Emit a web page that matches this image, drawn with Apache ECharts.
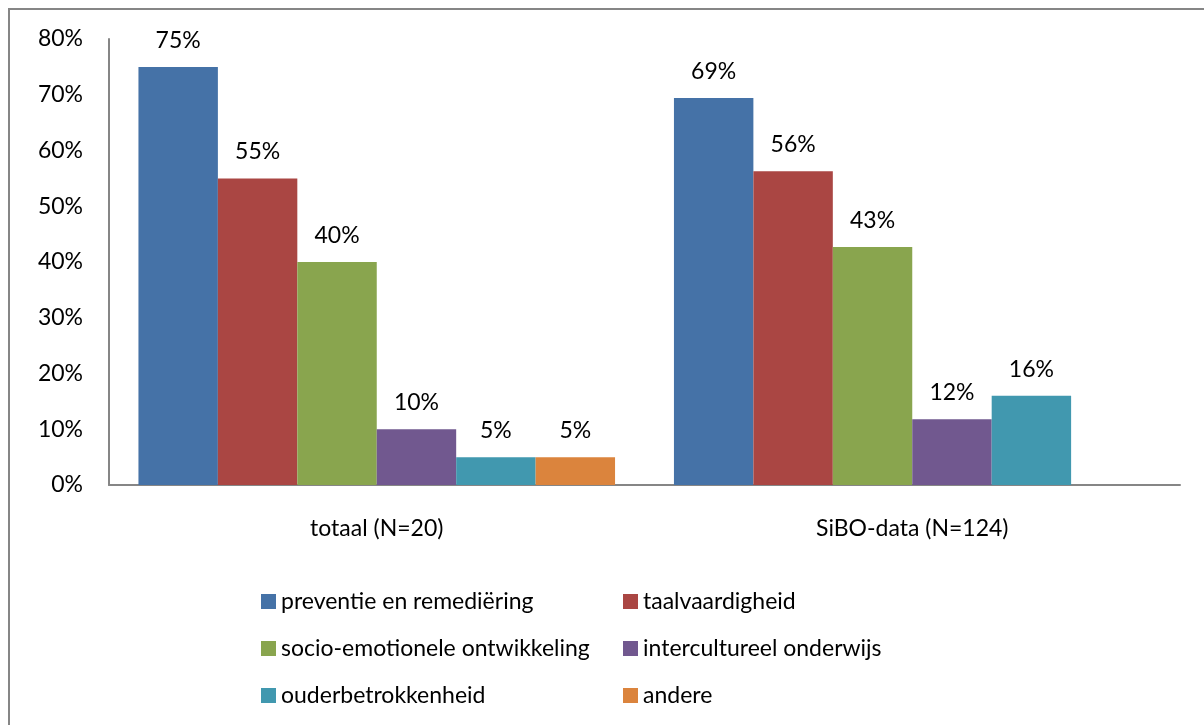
<!DOCTYPE html>
<html>
<head>
<meta charset="utf-8">
<script src="https://cdn.jsdelivr.net/npm/echarts@6/dist/echarts.min.js"></script>
<style>
  html, body { margin: 0; padding: 0; background: #fff; }
  #chart { width: 1204px; height: 725px; }
</style>
</head>
<body>
<div id="chart"></div>
<script>
// categorieen op de x-as
var categories = ['totaal (N=20)', 'SiBO-data (N=124)'];
// reeksen (percentages)
var seriesNames = ['preventie en remediëring', 'taalvaardigheid', 'socio-emotionele ontwikkeling',
  'intercultureel onderwijs', 'ouderbetrokkenheid', 'andere'];
var preventie = [75, 69.4];
var taal = [55, 56.3];
var socio = [40, 42.7];
var intercultureel = [10, 11.8];
var ouder = [5, 16.0];
var andere = [5, null];
var colors = ['#4572A7', '#AA4643', '#89A54E', '#71588F', '#4198AF', '#DB843D'];
// y-as: 0% .. 80%
var yMin = 0, yMax = 80, yStep = 10;

var font = 'Lato, "Liberation Sans", sans-serif';
var fs = 23;
var seriesData = [preventie, taal, socio, intercultureel, ouder, andere];

var chart = echarts.init(document.getElementById('chart'));
var ser = [];
seriesData.forEach(function (d, i) {
  ser.push({
    name: seriesNames[i],
    type: 'bar',
    data: d,
    barGap: '0%',
    barCategoryGap: '11%',
    itemStyle: { color: colors[i] },
    label: {
      show: true,
      position: 'top',
      distance: 15,
      color: '#000',
      fontFamily: font,
      fontSize: fs,
      formatter: function (p) { return Math.round(p.value) + '%'; }
    }
  });
});

var option = {
  animation: false,
  textStyle: { fontFamily: font },
  graphic: [{
    type: 'rect',
    shape: { x: 9, y: 9, width: 1400, height: 900 },
    style: { fill: 'none', stroke: '#868686', lineWidth: 2 },
    silent: true
  }],
  grid: { left: 109, right: 24, top: 39, bottom: 240, containLabel: false },
  legend: [{
    orient: 'vertical',
    left: 256, top: 585,
    itemWidth: 15, itemHeight: 15, itemGap: 24,
    icon: 'rect',
    data: [seriesNames[0], seriesNames[2], seriesNames[4]],
    textStyle: { color: '#000', fontSize: fs, fontFamily: font, lineHeight: 23 }
  }, {
    orient: 'vertical',
    left: 618, top: 585,
    itemWidth: 15, itemHeight: 15, itemGap: 24,
    icon: 'rect',
    data: [seriesNames[1], seriesNames[3], seriesNames[5]],
    textStyle: { color: '#000', fontSize: fs, fontFamily: font, lineHeight: 23 }
  }],
  xAxis: {
    type: 'category',
    data: categories,
    axisLine: { lineStyle: { color: '#868686', width: 2 } },
    axisTick: { show: false },
    axisLabel: { color: '#000', fontSize: fs, fontFamily: font, margin: 32 }
  },
  yAxis: {
    type: 'value',
    min: yMin, max: yMax, interval: yStep,
    axisLine: { show: true, lineStyle: { color: '#868686', width: 2 } },
    axisTick: { show: false },
    splitLine: { show: false },
    axisLabel: { color: '#000', fontSize: fs, fontFamily: font, margin: 26,
      formatter: function (v) { return v + '%'; } }
  },
  series: ser
};
chart.setOption(option);
</script>
</body>
</html>
